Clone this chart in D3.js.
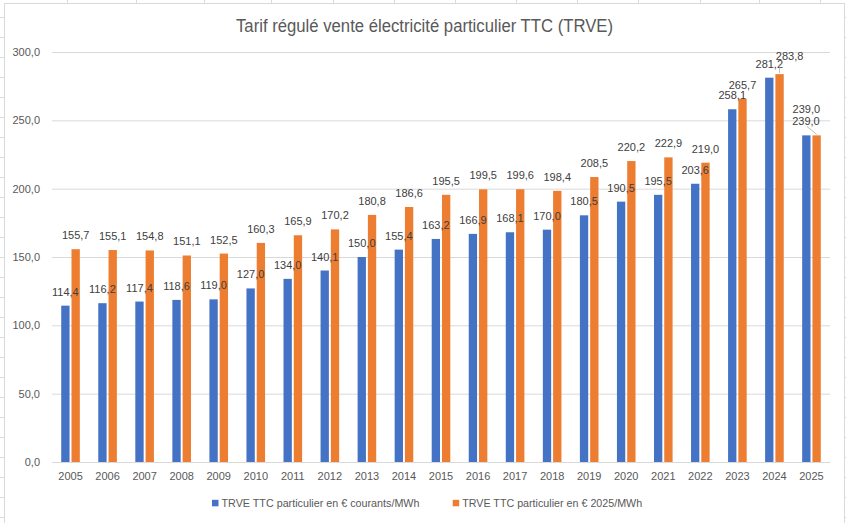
<!DOCTYPE html>
<html>
<head>
<meta charset="utf-8">
<script src="https://cdn.jsdelivr.net/npm/d3@7"></script>
<style>
  body { margin: 0; background: #fff; }
  svg { display: block; font-family: "Liberation Sans", Arial, sans-serif; }
</style>
</head>
<body>
<svg id="chart_svg" width="846" height="523"></svg>
<script>
// data
var years = ["2005","2006","2007","2008","2009","2010","2011","2012","2013","2014","2015",
             "2016","2017","2018","2019","2020","2021","2022","2023","2024","2025"];
var courants = [114.4,116.2,117.4,118.6,119.0,127.0,134.0,140.1,150.0,155.4,163.2,
                166.9,168.1,170.0,180.5,190.5,195.5,203.6,258.1,281.2,239.0];
var euros2025 = [155.7,155.1,154.8,151.1,152.5,160.3,165.9,170.2,180.8,186.6,195.5,
                 199.5,199.6,198.4,208.5,220.2,222.9,219.0,265.7,283.8,239.0];
var seriesNames = ["TRVE TTC particulier en € courants/MWh", "TRVE TTC particulier en € 2025/MWh"];
var yTicks = [0, 50, 100, 150, 200, 250, 300];

var colors = ["#4472C4", "#ED7D31"];

// label nudges excel made to avoid overlaps (series index, year) -> dx, dy, leader
var nudges = {
    "1-2024": {dx: 10, dy: -4.5, leader: true},
    "0-2025": {dx: 0, dy: -12.5, leader: false},
    "1-2025": {dx: -10.7, dy: 0, leader: true}
};

var fr = d3.formatLocale({decimal: ",", thousands: " ", grouping: [3], currency: ["", " €"]});
var fmt = fr.format(".1f");

var base = d3.select("#chart_svg");

// spreadsheet cells behind the chart
var cells = base.append("g").attr("id", "sheet-grid");
[67,136,204,271,333,394,455,516,577,638,700,759,820].forEach(function(cx) {
    cells.append("line").attr("x1", cx + 0.5).attr("x2", cx + 0.5).attr("y1", 0).attr("y2", 523)
        .attr("stroke", "#dadada");
});
for (var ry = 17; ry < 523; ry += 20) {
    cells.append("line").attr("x1", 0).attr("x2", 846).attr("y1", ry + 0.5).attr("y2", ry + 0.5)
        .attr("stroke", "#dadada");
}

// chart area
base.append("rect")
    .attr("x", 4.5).attr("y", 3.5)
    .attr("width", 840).attr("height", 540)
    .attr("fill", "#fff")
    .attr("stroke", "#d9d9d9");

var x = d3.scaleBand().domain(years).range([52, 830]).paddingInner(0).paddingOuter(0);
var bw = x.bandwidth();
var xSub = d3.scaleBand().domain([0, 1]).range([bw / 2 - 9.3, bw / 2 + 9.3]).paddingInner(0.19);
var y = d3.scaleLinear().domain([0, 300]).range([462, 52]);

// gridlines + y labels
var yAxis = d3.axisLeft(y).tickValues(yTicks).tickSize(-(830 - 52)).tickPadding(12).tickFormat(fmt);
var yg = base.append("g").attr("transform", "translate(52,0)").call(yAxis);
yg.select(".domain").remove();
yg.selectAll(".tick line").attr("stroke", "#d9d9d9");
yg.selectAll(".tick text").attr("fill", "#595959").attr("font-size", "11px")
    .attr("font-family", "Liberation Sans, Arial, sans-serif");

// x labels
var xAxis = d3.axisBottom(x).tickSize(0).tickPadding(10);
var xg = base.append("g").attr("transform", "translate(0,462)").call(xAxis);
xg.select(".domain").attr("stroke", "#d9d9d9");
xg.selectAll(".tick text").attr("fill", "#595959").attr("font-size", "11px")
    .attr("font-family", "Liberation Sans, Arial, sans-serif");

// bars
var series = [courants, euros2025];
series.forEach(function(vals, si) {
    var g = base.append("g").attr("class", "series-" + si);
    g.selectAll("rect")
        .data(vals)
        .enter().append("rect")
        .attr("x", function(d, i) { return x(years[i]) + xSub(si); })
        .attr("y", function(d) { return y(d); })
        .attr("width", xSub.bandwidth())
        .attr("height", function(d) { return y(0) - y(d); })
        .attr("fill", colors[si]);
});

// data labels
var labels = base.append("g").attr("class", "data-labels");
series.forEach(function(vals, si) {
    vals.forEach(function(d, i) {
        var cx = x(years[i]) + xSub(si) + xSub.bandwidth() / 2;
        var cy = y(d) - 14;
        var n = nudges[si + "-" + years[i]];
        var lx = cx, ly = cy;
        if (n) { lx += n.dx; ly += n.dy; }
        if (n && n.leader) {
            labels.append("line")
                .attr("x1", lx + (n.dx > 0 ? -10 : 1)).attr("y1", ly + (n.dx > 0 ? 9 : 5))
                .attr("x2", cx).attr("y2", y(d) - 1)
                .attr("stroke", "#a6a6a6").attr("stroke-width", 0.75);
        }
        labels.append("text")
            .attr("x", lx).attr("y", ly)
            .attr("text-anchor", "middle")
            .attr("dominant-baseline", "central")
            .attr("font-size", "11px")
            .attr("fill", "#404040")
            .text(fmt(d));
    });
});

// title
base.append("text")
    .text("Tarif régulé vente électricité particulier TTC (TRVE)")
    .attr("x", 424.5).attr("y", 32)
    .attr("text-anchor", "middle")
    .attr("font-size", "17.5px")
    .attr("fill", "#595959")
    .attr("textLength", 377)
    .attr("lengthAdjust", "spacingAndGlyphs");

// legend
var legendGroup = base.append("g").attr("id", "legend-group");
var legendX = [212, 452.7];
var legendW = [198, 180];
seriesNames.forEach(function(name, si) {
    legendGroup.append("rect")
        .attr("x", legendX[si]).attr("y", 499.8)
        .attr("width", 6.5).attr("height", 6.5)
        .attr("fill", colors[si]);
    legendGroup.append("text")
        .text(name)
        .attr("x", legendX[si] + 9.5).attr("y", 503)
        .attr("dominant-baseline", "central")
        .attr("font-size", "11px")
        .attr("fill", "#595959")
        .attr("textLength", legendW[si])
        .attr("lengthAdjust", "spacingAndGlyphs");
});
</script>
</body>
</html>
